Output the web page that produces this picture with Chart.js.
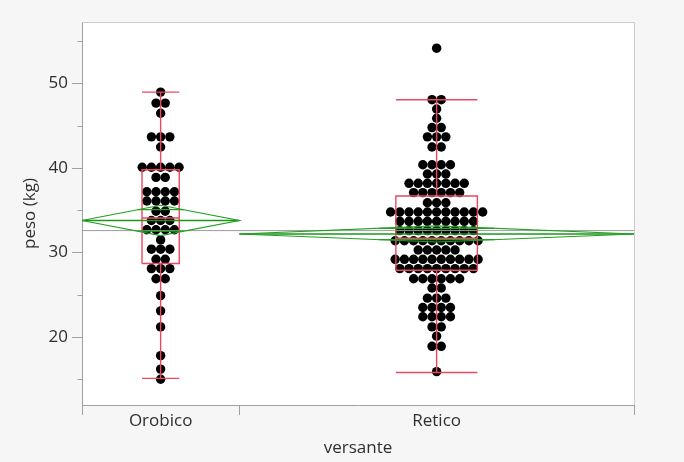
<!DOCTYPE html>
<html>
<head>
<meta charset="utf-8">
<script src="https://cdn.jsdelivr.net/npm/chart.js@4"></script>
<style>
  html, body { margin: 0; padding: 0; background: #f6f6f6; }
  canvas { display: block; }
</style>
</head>
<body>
<canvas id="chart" width="684" height="462"></canvas>
<script>
// Body weight (kg) by valley side
const categories = ['Orobico', 'Retico'];

const orobico = [
  49.0,
  47.7, 47.7,
  46.5,
  43.7, 43.7, 43.7,
  42.5,
  40.1, 40.1, 40.1, 40.1, 40.1,
  38.9, 38.9,
  37.2, 37.2, 37.2, 37.2,
  36.1, 36.1, 36.1, 36.1,
  34.9, 34.9,
  33.8, 33.8, 33.8,
  32.7, 32.7, 32.7, 32.7,
  31.5,
  30.4, 30.4, 30.4,
  29.2, 29.2,
  28.1, 28.1, 28.1,
  26.9, 26.9,
  24.9, 23.1, 21.2, 17.8, 16.2, 15.0
];

const retico = [
  54.2,
  48.1, 48.1,
  47.0,
  45.9,
  44.8, 44.8,
  43.7, 43.7, 43.7,
  42.5, 42.5,
  40.4, 40.4, 40.4, 40.4,
  39.3, 39.3, 39.3,
  38.2, 38.2, 38.2, 38.2, 38.2, 38.2, 38.2,
  37.1, 37.1, 37.1, 37.1, 37.1, 37.1,
  35.9, 35.9, 35.9,
  34.8, 34.8, 34.8, 34.8, 34.8, 34.8, 34.8, 34.8, 34.8, 34.8, 34.8,
  33.7, 33.7, 33.7, 33.7, 33.7, 33.7, 33.7, 33.7, 33.7,
  32.6, 32.6, 32.6, 32.6, 32.6, 32.6, 32.6, 32.6, 32.6,
  31.4, 31.4, 31.4, 31.4, 31.4, 31.4, 31.4, 31.4, 31.4, 31.4,
  30.3, 30.3, 30.3, 30.3, 30.3,
  29.2, 29.2, 29.2, 29.2, 29.2, 29.2, 29.2, 29.2, 29.2, 29.2,
  28.1, 28.1, 28.1, 28.1, 28.1, 28.1, 28.1, 28.1, 28.1,
  26.9, 26.9, 26.9, 26.9, 26.9, 26.9,
  25.8, 25.8,
  24.6, 24.6, 24.6,
  23.5, 23.5, 23.5, 23.5,
  22.4, 22.4, 22.4, 22.4,
  21.2, 21.2,
  20.1,
  18.9, 18.9,
  15.9
];

// Box plot summaries per group
const whiskerLow  = [15.1, 15.8];
const quartile1   = [28.7, 27.9];
const medians     = [34.1, 31.7];
const quartile3   = [39.8, 36.7];
const whiskerHigh = [49.0, 48.1];

// Group means and 95% confidence half-widths (means diamonds)
const means  = [33.8, 32.2];
const ciHalf = [1.8, 0.95];
const grandMean = 32.6;

const yTicks = [20, 30, 40, 50];
const yMinorTicks = [15, 25, 35, 45, 55];

// ---- drawing constants ----
const AXIS = '#a0a0a0';
const FRAME = '#cccccc';
const TEXT = '#2e2e2e';
const RED = '#ec4760';
const GREEN = '#22a022';
const DOT_STEP = 2.87;          // horizontal spacing between swarm dots (x units)
const BOX_HALF = [5.8, 12.7];   // half width of each box (x units)

const groups = [orobico, retico];
const starts = [];
const ends = [];
let acc = 0;
groups.forEach(g => { starts.push(acc); acc += g.length; ends.push(acc); });
const total = acc;
const centers = starts.map((s, i) => (s + ends[i]) / 2);

// Stack equal values side by side, centred on the group position
function swarm(values, center) {
  const rows = new Map();
  values.forEach(v => rows.set(v, (rows.get(v) || 0) + 1));
  const pts = [];
  rows.forEach((k, v) => {
    for (let i = 0; i < k; i++) pts.push({ x: center + (i - (k - 1) / 2) * DOT_STEP, y: v });
  });
  return pts;
}

function seg(points, color, width, order) {
  return {
    type: 'line', data: points, borderColor: color, borderWidth: width,
    pointRadius: 0, fill: false, tension: 0, order: order, clip: 2
  };
}

const datasets = [];

groups.forEach((g, i) => {
  datasets.push({
    type: 'scatter', data: swarm(g, centers[i]),
    pointRadius: 4.7, pointBackgroundColor: '#000', pointBorderWidth: 0,
    pointHoverRadius: 4.7, order: 10
  });
});

// grand mean
datasets.push(seg([{ x: 0, y: grandMean }, { x: total, y: grandMean }], '#9a9a9a', 1, 6));

// box plots
groups.forEach((g, i) => {
  const c = centers[i], h = BOX_HALF[i];
  datasets.push(seg([
    { x: c - h, y: quartile1[i] }, { x: c + h, y: quartile1[i] },
    { x: c + h, y: quartile3[i] }, { x: c - h, y: quartile3[i] },
    { x: c - h, y: quartile1[i] }
  ], RED, 1.4, 4));
  datasets.push(seg([{ x: c - h, y: medians[i] }, { x: c + h, y: medians[i] }], RED, 1.4, 4));
  datasets.push(seg([{ x: c, y: quartile3[i] }, { x: c, y: whiskerHigh[i] }], RED, 1.4, 4));
  datasets.push(seg([{ x: c, y: quartile1[i] }, { x: c, y: whiskerLow[i] }], RED, 1.4, 4));
  datasets.push(seg([{ x: c - h, y: whiskerHigh[i] }, { x: c + h, y: whiskerHigh[i] }], RED, 1.4, 4));
  datasets.push(seg([{ x: c - h, y: whiskerLow[i] }, { x: c + h, y: whiskerLow[i] }], RED, 1.4, 4));
});

// means diamonds with overlap marks
groups.forEach((g, i) => {
  const l = starts[i], r = ends[i], c = centers[i], m = means[i], d = ciHalf[i];
  datasets.push(seg([
    { x: l, y: m }, { x: c, y: m + d }, { x: r, y: m }, { x: c, y: m - d }, { x: l, y: m }
  ], GREEN, 1.2, 2));
  datasets.push(seg([{ x: l, y: m }, { x: r, y: m }], '#1b961b', 1.4, 2));
  const od = d / Math.SQRT2;
  const ow = (r - l) / 2 * (1 - 1 / Math.SQRT2);
  datasets.push(seg([{ x: c - ow, y: m + od }, { x: c + ow, y: m + od }], GREEN, 1.2, 2));
  datasets.push(seg([{ x: c - ow, y: m - od }, { x: c + ow, y: m - od }], GREEN, 1.2, 2));
});

const framePlugin = {
  id: 'frame',
  beforeDraw(chart) {
    const { ctx, chartArea: a } = chart;
    ctx.save();
    ctx.fillStyle = '#ffffff';
    ctx.fillRect(a.left, a.top, a.right - a.left, a.bottom - a.top);
    ctx.restore();
  },
  afterDraw(chart) {
    const { ctx, chartArea: a, scales } = chart;
    ctx.save();
    ctx.lineWidth = 1;
    ctx.strokeStyle = FRAME;
    ctx.beginPath();
    ctx.moveTo(a.left, Math.round(a.top) + 0.5);
    ctx.lineTo(Math.round(a.right) + 0.5, Math.round(a.top) + 0.5);
    ctx.lineTo(Math.round(a.right) + 0.5, a.bottom);
    ctx.stroke();
    ctx.strokeStyle = AXIS;
    const x0 = Math.round(a.left) + 0.5;
    yMinorTicks.forEach(v => {
      const py = Math.round(scales.y.getPixelForValue(v)) + 0.5;
      ctx.beginPath();
      ctx.moveTo(x0 - 5, py);
      ctx.lineTo(x0, py);
      ctx.stroke();
    });
    ctx.restore();
  }
};

Chart.defaults.font.family = "'Open Sans', 'Noto Sans', sans-serif";
Chart.defaults.font.size = 17;
Chart.defaults.color = TEXT;

const xTickValues = [];
starts.forEach((s, i) => { xTickValues.push(s, centers[i]); });
xTickValues.push(total);

new Chart(document.getElementById('chart'), {
  type: 'scatter',
  data: { datasets },
  options: {
    responsive: false,
    animation: false,
    events: [],
    layout: { padding: { top: 22, right: 50, left: 0, bottom: 0 } },
    plugins: { legend: { display: false }, tooltip: { enabled: false } },
    scales: {
      x: {
        type: 'linear', position: 'bottom', min: 0, max: total,
        afterFit(scale) { scale.height = 57; },
        afterBuildTicks(scale) { scale.ticks = xTickValues.map(v => ({ value: v })); },
        grid: {
          drawOnChartArea: false, tickLength: 10,
          tickColor: ctx => (ctx.index % 2 === 0 ? AXIS : 'rgba(0,0,0,0)'),
          color: AXIS
        },
        border: { color: AXIS },
        ticks: {
          autoSkip: false, maxRotation: 0, minRotation: 0, padding: -2,
          font: { size: 17, lineHeight: 1 },
          callback: (v, i) => (i % 2 === 1 ? categories[(i - 1) / 2] : '')
        },
        title: { display: true, text: 'versante', font: { size: 17, lineHeight: 1.2 }, padding: { top: 0, bottom: 4 } }
      },
      y: {
        type: 'linear', position: 'left', min: 11.95, max: 57.3,
        afterFit(scale) { scale.width = 82; },
        afterBuildTicks(scale) { scale.ticks = yTicks.map(v => ({ value: v })); },
        grid: { drawOnChartArea: false, tickLength: 10, color: AXIS, tickColor: AXIS },
        border: { color: AXIS },
        ticks: { padding: 4, font: { size: 17 } },
        title: { display: true, text: 'peso (kg)', font: { size: 17, lineHeight: 1.2 }, padding: { top: 20, bottom: 0 } }
      }
    }
  },
  plugins: [framePlugin]
});
</script>
</body>
</html>
